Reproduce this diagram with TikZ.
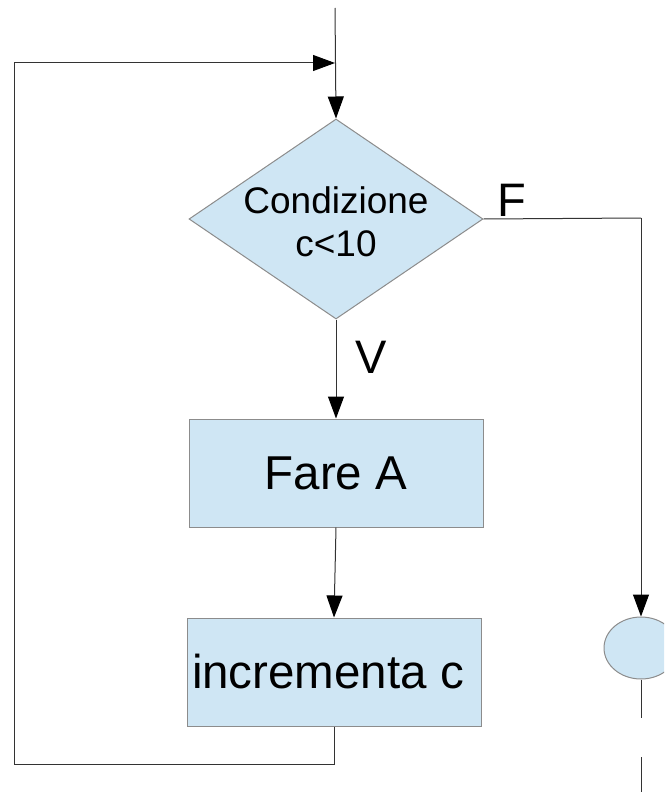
\documentclass[tikz,border=0pt]{standalone}
\usepackage{fontspec}
\setmainfont{Liberation Sans}
\usetikzlibrary{shapes.geometric,arrows.meta}
\definecolor{boxfill}{HTML}{CFE6F4}
\definecolor{boxline}{HTML}{8C8C8C}
\definecolor{linecol}{HTML}{333333}
\tikzset{
  shapebox/.style={draw=boxline, fill=boxfill, line width=1pt, inner sep=0pt},
  procbox/.style={shapebox, rectangle, minimum width=294pt, minimum height=108pt, font=\fontsize{47.5}{57}\selectfont},
  decbox/.style={shapebox, diamond, minimum width=294pt, minimum height=200pt},
  termbox/.style={shapebox, ellipse, minimum width=74pt, minimum height=62pt},
  conn/.style={draw=linecol, line width=1pt},
  arr/.style={conn, -{Triangle[length=22pt,width=16pt,color=black,fill=black]}},
  bigtxt/.style={font=\fontsize{47}{55}\selectfont, inner sep=0pt},
}
\begin{document}
\begin{tikzpicture}[x=1pt,y=-1pt]
\useasboundingbox (0,0) rectangle (664,792);
\clip (0,0) rectangle (664,792);
\fill[white] (0,0) rectangle (664,792);
% nodes
\node[decbox] (cond) at (336,219) {};
\node[font=\fontsize{37}{43}\selectfont, align=center, inner sep=0pt] (condtxt) at (336,222) {Condizione\\c<10};
\node[procbox] (fare) at (336,473) {Fare A};
\node[procbox] (incr) at (334,672) {incrementa c\hspace*{12pt}};
\node[termbox] (fine) at (641,648) {};
% coordinates
\coordinate (start) at (335,8);
\coordinate (merge) at (335,63);
\coordinate (loopbr) at (334,764);
\coordinate (loopbl) at (14,764);
\coordinate (looptl) at (14,63);
\coordinate (fcorner) at (641,218);
\coordinate (tailA) at (641,718);
\coordinate (tailB) at (641,757);
\coordinate (tailC) at (641,792);
% connectors
\draw[arr] (start) -- (cond.north);
\draw[arr] (cond.south) -- (fare.north);
\draw[arr] (fare.south) -- (incr.north);
\draw[conn] (incr.south) -- (loopbr) -- (loopbl) -- (looptl);
\draw[arr] (looptl) -- (merge);
\draw[conn] (cond.east) -- (fcorner);
\draw[arr] (fcorner) -- (fine.north);
\draw[conn] (fine.south) -- (tailA);
\draw[conn] (tailB) -- (tailC);
% labels
\node[bigtxt, anchor=base west] (flab) at (497,216) {F};
\node[bigtxt, anchor=base west] (vlab) at (355,373) {V};
\end{tikzpicture}
\end{document}
